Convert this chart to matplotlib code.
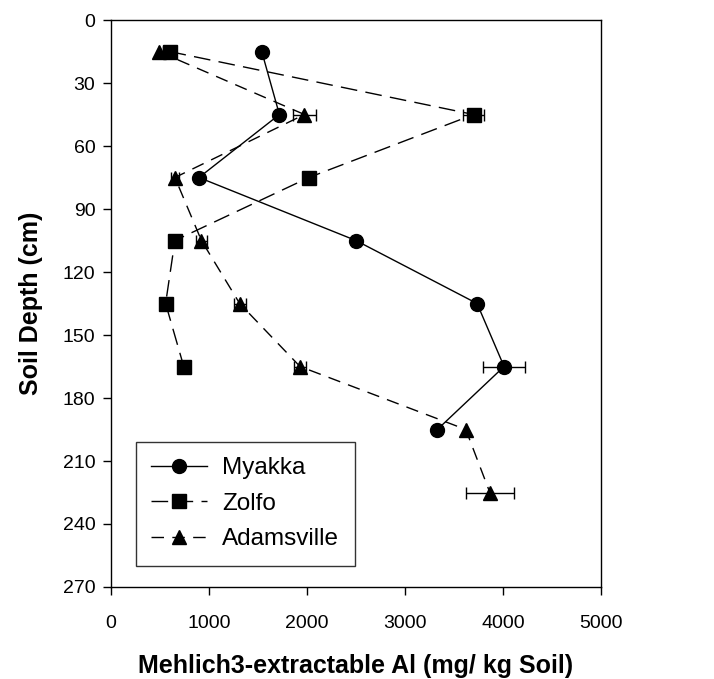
import matplotlib
matplotlib.use("Agg")
import matplotlib.pyplot as plt

plt.rcParams['font.family'] = ['Liberation Sans', 'DejaVu Sans']

myakka_depth = [15, 45, 75, 105, 135, 165, 195]
myakka_al = [1540, 1720, 900, 2500, 3735, 4010, 3330]
myakka_err = [0, 0, 0, 40, 0, 210, 0]

zolfo_depth = [15, 45, 75, 105, 135, 165]
zolfo_al = [600, 3700, 2020, 655, 560, 745]
zolfo_err = [70, 110, 0, 0, 0, 0]

adams_depth = [15, 45, 75, 105, 135, 165, 195, 225]
adams_al = [490, 1975, 655, 925, 1315, 1930, 3620, 3865]
adams_err = [0, 115, 40, 60, 60, 60, 0, 245]

xticks = [0, 1000, 2000, 3000, 4000, 5000]
yticks = [0, 30, 60, 90, 120, 150, 180, 210, 240, 270]

fig = plt.figure(figsize=(7.14, 6.79), dpi=100)
ax = fig.add_axes([0.155, 0.1355, 0.687, 0.835])

kw = dict(color='black', ecolor='black', elinewidth=1.0, capsize=4, capthick=1.0,
          markersize=10, linewidth=1.0)
c1 = ax.errorbar(myakka_al, myakka_depth, xerr=myakka_err, marker='o', linestyle='-',
                 label='Myakka', **kw)
c2 = ax.errorbar(zolfo_al, zolfo_depth, xerr=zolfo_err, marker='s', linestyle=(0, (12, 6)),
                 label='Zolfo', **kw)
c3 = ax.errorbar(adams_al, adams_depth, xerr=adams_err, marker='^', linestyle=(0, (9, 6)),
                 label='Adamsville', **kw)

ax.set_xlim(0, 5000)
ax.set_ylim(270, 0)
ax.set_xticks(xticks)
ax.set_yticks(yticks)
ax.tick_params(direction='out', length=6, labelsize=14, width=1)
ax.tick_params(axis='x', pad=14)
ax.tick_params(axis='y', pad=5)
for s in ax.spines.values():
    s.set_linewidth(1.0)

ax.set_xlabel('Mehlich3-extractable Al (mg/ kg Soil)', fontsize=18, fontweight='bold', labelpad=16)
ax.set_ylabel('Soil Depth (cm)', fontsize=18, fontweight='bold', labelpad=14)

leg = ax.legend(handles=[c1[0], c2[0], c3[0]], labels=['Myakka', 'Zolfo', 'Adamsville'],
                loc='lower left', bbox_to_anchor=(0.051, 0.037), fontsize=17.5,
                frameon=True, fancybox=False, edgecolor='black', handlelength=2.3,
                borderpad=0.65, labelspacing=0.55, handletextpad=0.6, borderaxespad=0)
leg.get_frame().set_linewidth(1.0)

fig.savefig('out.png', dpi=100)
